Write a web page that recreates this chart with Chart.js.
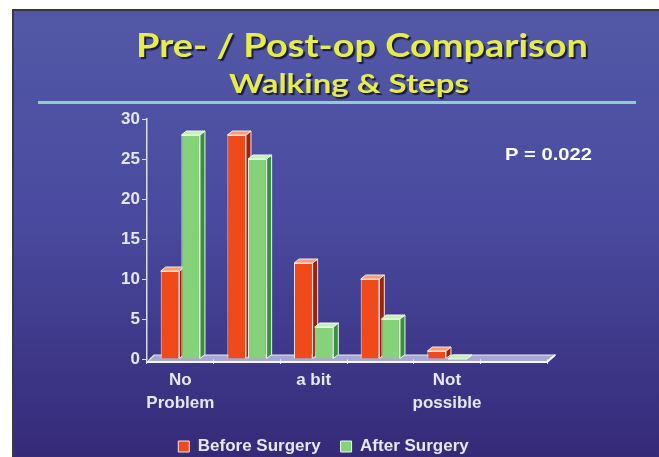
<!DOCTYPE html>
<html>
<head>
<meta charset="utf-8">
<title>Walking &amp; Steps</title>
<script src="https://cdn.jsdelivr.net/npm/chart.js@4/dist/chart.umd.min.js"></script>
<style>
  html, body { margin: 0; padding: 0; background: #fff; overflow: hidden; }
  canvas { display: block; }
</style>
</head>
<body>
<canvas id="chart" width="659" height="457"></canvas>
<script>
// Survey answers, grouped by how much trouble walking and steps cause
const categories = [["No", "Problem"], "", "a bit", "", ["Not", "possible"], ""];
const seriesNames = ["Before Surgery", "After Surgery"];
const beforeSurgery = [11, 28, 12, 10, 1, null];
const afterSurgery = [28, 25, 4, 5, 0, null];
const yTickStep = 5;
const yMax = 30;
const titleText = "Pre- / Post-op Comparison";
const subtitleText = "Walking & Steps";
const pValueText = "P = 0.022";

// Face colours for each series: front, right side, top
const faceColors = [
  { front: "#f04a1b", side: "#9c220c", top: "#ff9a72", edge: "#f7e6e2" },
  { front: "#86d27a", side: "#3a8f3e", top: "#c4f2b6", edge: "#eef8ea" }
];
const labelColor = "#e6e6f2";
const axisColor = "#dcdcf0";
const labelFont = { family: '"Liberation Sans", Arial, sans-serif', size: 17, weight: "bold", lineHeight: 1.4 };

// Slide background: gradient panel with a thin dark frame and the rule under the heading
const backdrop = {
  id: "backdrop",
  beforeDraw(chart) {
    const { ctx, width, height } = chart;
    ctx.save();
    ctx.fillStyle = "#ffffff";
    ctx.fillRect(0, 0, width, height);
    ctx.fillStyle = "#3a3a3a";
    ctx.fillRect(12, 9, width - 12, height - 9);
    const g = ctx.createLinearGradient(0, 11, 0, height);
    g.addColorStop(0, "#5358a6");
    g.addColorStop(0.45, "#4a4ba0");
    g.addColorStop(1, "#352a78");
    ctx.fillStyle = g;
    ctx.fillRect(14, 11, width - 14, height - 11);
    ctx.strokeStyle = "#8ed0c6";
    ctx.lineWidth = 3;
    ctx.beginPath();
    ctx.moveTo(38, 102.5);
    ctx.lineTo(636, 102.5);
    ctx.stroke();
    ctx.restore();
  }
};

function drawFitted(ctx, text, font, cx, baseline, targetWidth, color, shadow) {
  ctx.save();
  ctx.font = font;
  const w = ctx.measureText(text).width;
  ctx.translate(cx, baseline);
  ctx.scale(targetWidth / w, 1);
  ctx.textAlign = "center";
  ctx.textBaseline = "alphabetic";
  if (shadow) {
    ctx.shadowColor = shadow;
    ctx.shadowOffsetX = 2;
    ctx.shadowOffsetY = 2;
    ctx.shadowBlur = 1;
  }
  ctx.fillStyle = color;
  ctx.fillText(text, 0, 0);
  ctx.restore();
}

// Heading lines and the significance note
const captions = {
  id: "captions",
  afterDraw(chart) {
    const ctx = chart.ctx;
    drawFitted(ctx, titleText, 'bold 32px Lato, "Open Sans", sans-serif', 362, 57, 452, "#e6ee46", "rgba(22,22,60,0.95)");
    drawFitted(ctx, subtitleText, 'bold 26px Lato, "Open Sans", sans-serif', 349, 93, 240, "#e6ee46", "rgba(22,22,60,0.95)");
    ctx.save();
    ctx.font = 'bold 17px "Liberation Sans", Arial, sans-serif';
    const w = ctx.measureText(pValueText).width;
    ctx.translate(505, 155);
    ctx.scale(87 / w, 1);
    ctx.fillStyle = "#ffffff";
    ctx.textAlign = "left";
    ctx.fillText(pValueText, 0, 0);
    ctx.restore();
  }
};

// Floor slab plus the side and top faces that give each bar its depth
const depth = { dx: 5, dy: 4 };
const bar3d = {
  id: "bar3d",
  beforeDatasetsDraw(chart) {
    const { ctx, chartArea: a } = chart;
    ctx.save();
    ctx.beginPath();
    ctx.moveTo(a.left, a.bottom + 3);
    ctx.lineTo(a.right, a.bottom + 3);
    ctx.lineTo(a.right + 8, a.bottom - 4);
    ctx.lineTo(a.left + 7, a.bottom - 4);
    ctx.closePath();
    ctx.fillStyle = "rgba(214,214,242,0.7)";
    ctx.fill();
    ctx.strokeStyle = "#e8e8f6";
    ctx.lineWidth = 1.2;
    ctx.stroke();
    ctx.strokeStyle = "#f6f6fc";
    ctx.lineWidth = 2;
    ctx.beginPath();
    ctx.moveTo(a.left, a.bottom + 3);
    ctx.lineTo(a.right, a.bottom + 3);
    ctx.lineTo(a.right + 8, a.bottom - 4);
    ctx.stroke();

    const poly = (pts, fill, edge) => {
      ctx.beginPath();
      ctx.moveTo(pts[0][0], pts[0][1]);
      for (let k = 1; k < pts.length; k++) ctx.lineTo(pts[k][0], pts[k][1]);
      ctx.closePath();
      ctx.fillStyle = fill;
      ctx.fill();
      ctx.strokeStyle = edge;
      ctx.lineWidth = 1;
      ctx.stroke();
    };

    chart.data.datasets.forEach((ds, di) => {
      const meta = chart.getDatasetMeta(di);
      if (meta.hidden) return;
      const c = faceColors[di];
      meta.data.forEach((el, i) => {
        if (ds.data[i] == null) return;
        const { x, y, base, width } = el.getProps(["x", "y", "base", "width"], true);
        const l = x - width / 2, r = x + width / 2;
        poly([[r, y], [r + depth.dx, y - depth.dy], [r + depth.dx, base - depth.dy], [r, base]], c.side, c.edge);
        poly([[l, y], [r, y], [r + depth.dx, y - depth.dy], [l + depth.dx, y - depth.dy]], c.top, c.edge);
      });
    });
    ctx.restore();
  }
};

new Chart(document.getElementById("chart"), {
  type: "bar",
  data: {
    labels: categories,
    datasets: [
      { label: seriesNames[0], data: beforeSurgery, backgroundColor: faceColors[0].front, borderColor: faceColors[0].edge, borderWidth: 1 },
      { label: seriesNames[1], data: afterSurgery, backgroundColor: faceColors[1].front, borderColor: faceColors[1].edge, borderWidth: 1 }
    ]
  },
  options: {
    responsive: false,
    animation: false,
    devicePixelRatio: 1,
    datasets: { bar: { categoryPercentage: 0.62, barPercentage: 0.9 } },
    layout: { padding: { left: 100, right: 112, top: 119, bottom: -8 } },
    plugins: {
      title: { display: false },
      tooltip: { enabled: false },
      legend: {
        position: "bottom",
        labels: { color: labelColor, font: labelFont, boxWidth: 11, boxHeight: 11, padding: 20 }
      }
    },
    scales: {
      x: {
        grid: { display: true, drawOnChartArea: false, drawTicks: true, tickLength: 5, color: axisColor },
        border: { display: false },
        ticks: { color: labelColor, font: labelFont, padding: 4, autoSkip: false, maxRotation: 0, minRotation: 0 },
        afterFit: (s) => { s.height = 59; }
      },
      y: {
        min: 0,
        max: yMax,
        ticks: { stepSize: yTickStep, color: labelColor, font: labelFont, padding: 2 },
        grid: { display: true, drawOnChartArea: false, drawTicks: true, tickLength: 5, color: axisColor },
        border: { display: true, color: axisColor, width: 1.5 },
        afterFit: (s) => { s.width = 47; }
      }
    }
  },
  plugins: [backdrop, bar3d, captions]
});
</script>
</body>
</html>
